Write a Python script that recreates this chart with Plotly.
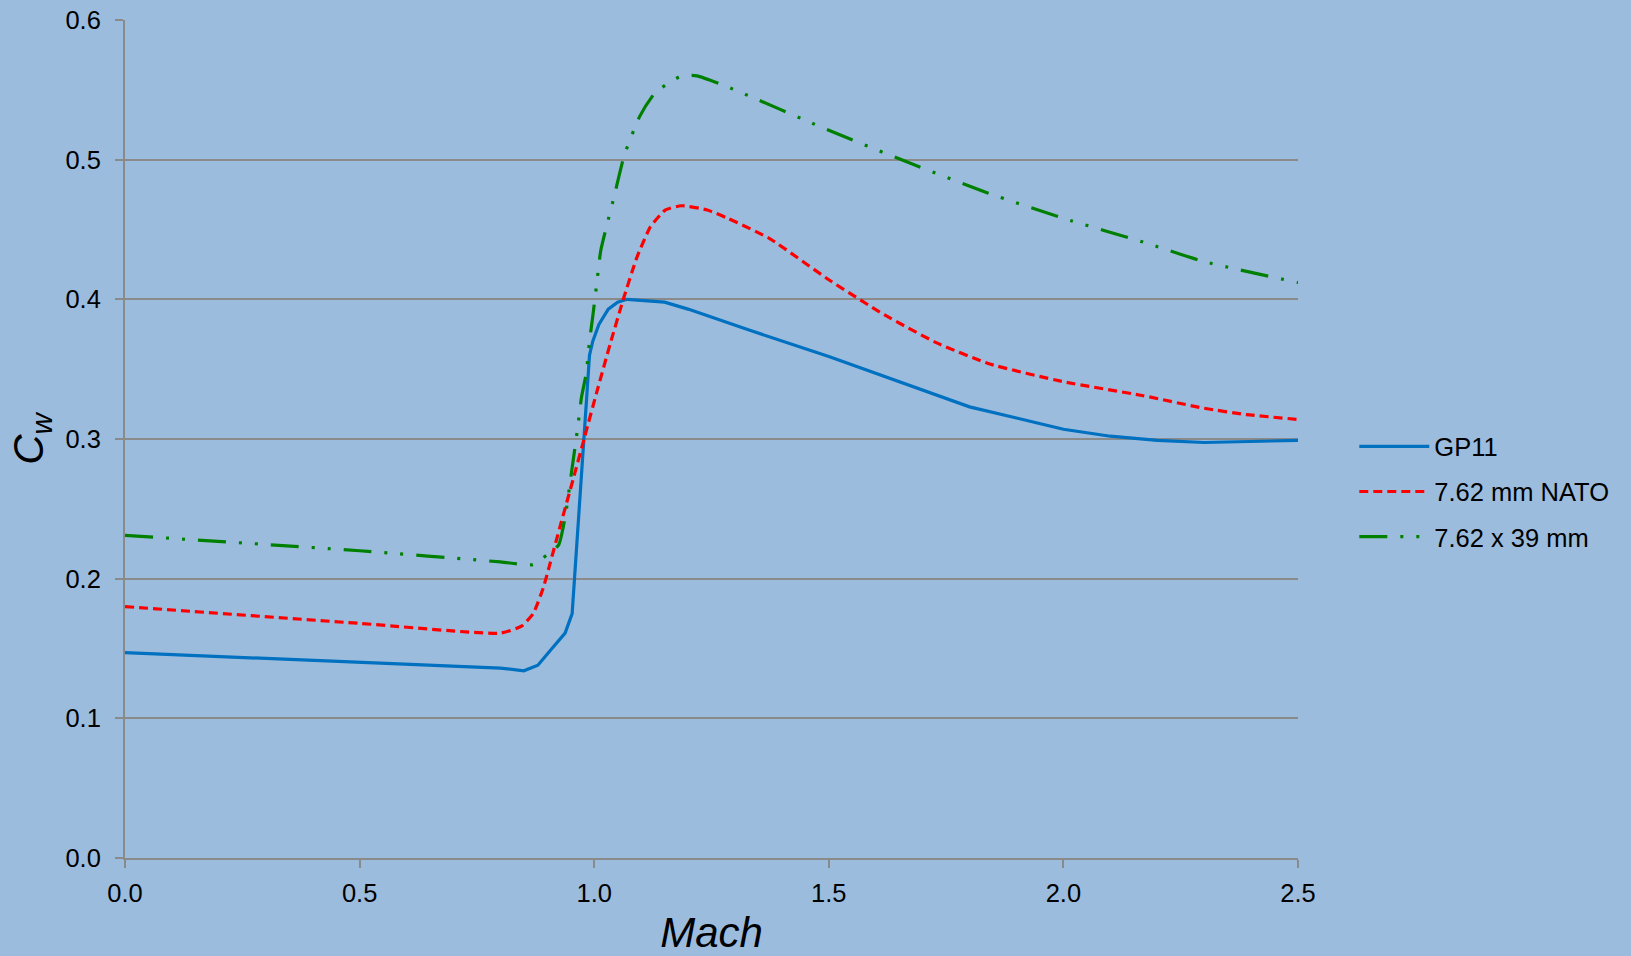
import plotly.graph_objects as go

# ---- data ----
mach_gp11 = [0.0, 0.5, 0.8, 0.85, 0.88, 0.905, 0.938, 0.953, 0.99, 0.997, 1.01, 1.03, 1.05, 1.07,
             1.15, 1.2, 1.33, 1.5, 1.6, 1.7, 1.8, 1.9, 2.0, 2.1, 2.2, 2.3, 2.4, 2.5]
cw_gp11 = [0.147, 0.140, 0.136, 0.134, 0.138, 0.148, 0.161, 0.175, 0.360, 0.370, 0.382, 0.393, 0.398, 0.400,
           0.398, 0.393, 0.378, 0.359, 0.347, 0.335, 0.323, 0.315, 0.307, 0.302, 0.299, 0.2975, 0.298, 0.299]

mach_nato = [0.0, 0.5, 0.8, 0.845, 0.87, 0.892, 0.906, 0.927, 0.955, 0.98, 1.005, 1.034, 1.062, 1.091,
             1.12, 1.152, 1.186, 1.241, 1.285, 1.374, 1.5, 1.618, 1.729, 1.84, 2.0, 2.17, 2.3, 2.39, 2.5]
cw_nato = [0.180, 0.168, 0.161, 0.166, 0.175, 0.194, 0.211, 0.237, 0.271, 0.302, 0.333, 0.368, 0.400, 0.430,
           0.452, 0.464, 0.467, 0.464, 0.458, 0.4435, 0.414, 0.389, 0.369, 0.354, 0.341, 0.331, 0.322, 0.3175, 0.314]

mach_39 = [0.0, 0.5, 0.8, 0.87, 0.899, 0.924, 0.938, 0.952, 0.964, 0.973, 0.983, 0.99, 0.997, 1.005,
           1.014, 1.042, 1.064, 1.097, 1.13, 1.186, 1.219, 1.285, 1.5, 1.662, 1.84, 2.0, 2.17, 2.3, 2.5]
cw_39 = [0.231, 0.220, 0.212, 0.210, 0.217, 0.224, 0.244, 0.277, 0.306, 0.330, 0.347, 0.370, 0.388, 0.410,
         0.435, 0.473, 0.503, 0.531, 0.548, 0.560, 0.560, 0.552, 0.521, 0.499, 0.476, 0.458, 0.441, 0.427, 0.412]

names = ["GP11", "7.62 mm NATO", "7.62 x 39 mm"]
x_ticks = [0.0, 0.5, 1.0, 1.5, 2.0, 2.5]
y_ticks = [0.0, 0.1, 0.2, 0.3, 0.4, 0.5, 0.6]

BG = "#9cbcde"
GRID = "#8a8a8a"
FONT = "Liberation Sans, Arial, sans-serif"

fig = go.Figure()
fig.add_trace(go.Scatter(x=mach_gp11, y=cw_gp11, mode="lines", name=names[0], legendgroup="a",
                         line=dict(color="#0070c0", width=3.2)))
fig.add_trace(go.Scatter(x=mach_nato, y=cw_nato, mode="lines", name=names[1], legendgroup="b",
                         line=dict(color="#ff0000", width=3.2, dash="9px,5px", shape="spline", smoothing=0.5)))
fig.add_trace(go.Scatter(x=mach_39, y=cw_39, mode="lines", name=names[2], legendgroup="c",
                         line=dict(color="#008000", width=3.2, dash="28px,13px,3px,13px,3px,13px",
                                   shape="spline", smoothing=0.5)))

fig.update_layout(
    width=1631, height=956,
    margin=dict(l=125, r=333, t=20, b=98, autoexpand=False),
    paper_bgcolor=BG, plot_bgcolor=BG,
    font=dict(family=FONT, size=25.5, color="#000000"),
    showlegend=True,
    legend=dict(x=1.048, y=0.437, xanchor="left", yanchor="middle", bgcolor="rgba(0,0,0,0)",
                font=dict(size=25.5), tracegroupgap=9, itemwidth=70),
    xaxis=dict(range=[0, 2.5], tickvals=x_ticks, tickformat=".1f", showgrid=False,
               showline=True, linecolor=GRID, linewidth=2, ticks="outside", ticklen=8,
               tickcolor=GRID, tickwidth=2, zeroline=False, ticklabelstandoff=3,
               title=dict(text="<i>Mach</i>", font=dict(size=42), standoff=16)),
    yaxis=dict(range=[0, 0.6], tickvals=y_ticks, tickformat=".1f", showgrid=True,
               gridcolor=GRID, gridwidth=1.5, showline=True, linecolor=GRID, linewidth=2,
               ticks="outside", ticklen=8, tickcolor=GRID, tickwidth=2, zeroline=False,
               ticklabelstandoff=9,
               title=dict(text="<i>C<sub>w</sub></i>", font=dict(size=42), standoff=9)),
)

fig.write_html("out.html")
